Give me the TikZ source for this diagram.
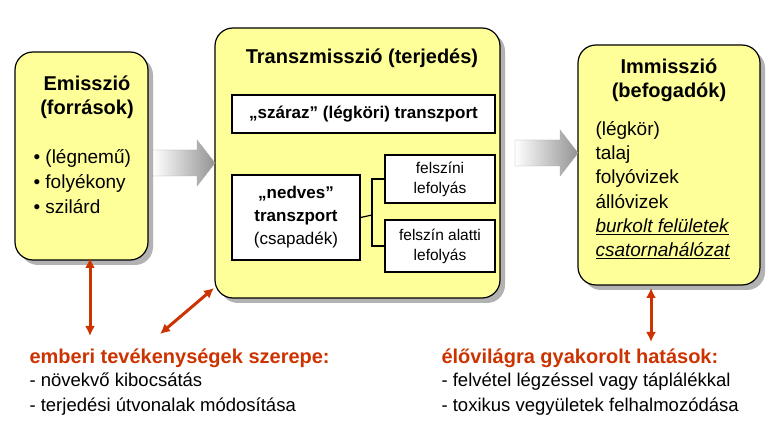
\documentclass[tikz,border=0pt]{standalone}
\usepackage{fontspec}
\setmainfont{Liberation Sans}
\usetikzlibrary{arrows.meta}
\definecolor{boxyellow}{HTML}{FFFF99}
\definecolor{darkred}{HTML}{CC3300}
\begin{document}
\begin{tikzpicture}[x=1pt,y=-1pt]
    \tikzset{bigbox/.style = {draw, fill=boxyellow, rounded corners=18pt, line width=1.2pt}}
    \tikzset{shadowbox/.style = {fill=gray!60, rounded corners=18pt}}
    \tikzset{smallbox/.style = {draw, fill=white, line width=1.2pt}}
    \tikzset{redarrow/.style = {draw=darkred, line width=3pt, {Latex[length=10pt,width=10pt]}-{Latex[length=10pt,width=10pt]}}}
    \tikzset{blockarrow/.style = {draw=gray!70, left color=white, right color=gray!85}}
    \useasboundingbox (0,0) rectangle (772,430);

    % shadows and boxes
    \fill[shadowbox] (20,57) rectangle (153,265);
    \fill[shadowbox] (220,33) rectangle (505,303);
    \fill[shadowbox] (583,50) rectangle (765,290);
    \draw[bigbox] (15,52) rectangle (148,260);
    \draw[bigbox] (215,28) rectangle (500,298);
    \draw[bigbox] (578,45) rectangle (760,285);

    % block arrows
    \draw[blockarrow] (153,150) -- (197,150) -- (197,140) -- (215,163) -- (197,186) -- (197,176) -- (153,176) -- cycle;
    \draw[blockarrow] (515,140) -- (560,140) -- (560,130) -- (578,153) -- (560,176) -- (560,166) -- (515,166) -- cycle;

    % left box
    \node[font=\bfseries\fontsize{20}{24}\selectfont, align=center] (emi) at (87,97) {Emisszió\\(források)};
    \node[font=\fontsize{19}{25}\selectfont, align=left, anchor=north west] (emilist) at (30,146) {• (légnemű)\\• folyékony\\• szilárd};

    % middle box
    \node[font=\bfseries\fontsize{20}{24}\selectfont] (trans) at (362,58) {Transzmisszió (terjedés)};
    \node[smallbox, minimum width=263pt, minimum height=38pt, font=\bfseries\fontsize{17}{20}\selectfont] (szaraz) at (363.5,114) {„száraz” (légköri) transzport};
    \node[smallbox, minimum width=128pt, minimum height=85pt, align=center, font=\fontsize{17}{23}\selectfont] (nedves) at (296,217.5) {\textbf{„nedves”}\\\textbf{transzport}\\(csapadék)};
    \node[smallbox, minimum width=110pt, minimum height=48pt, align=center, font=\fontsize{15.5}{20}\selectfont] (felszini) at (440,179) {felszíni\\lefolyás};
    \node[smallbox, minimum width=110pt, minimum height=52pt, align=center, font=\fontsize{15.5}{20}\selectfont] (alatti) at (440,246) {felszín alatti\\lefolyás};
    \coordinate (fork) at (372,215);
    \draw[line width=1.2pt] (nedves.east) -- (fork);
    \draw[line width=1.2pt] (felszini.west) -| (fork) |- (alatti.west);

    % right box
    \node[font=\bfseries\fontsize{20}{24}\selectfont, align=center] (imm) at (669,80) {Immisszió\\(befogadók)};
    \node[font=\fontsize{19}{24.2}\selectfont, align=left, anchor=north west] (immlist) at (592,118) {(légkör)\\talaj\\folyóvizek\\állóvizek\\\textit{\underline{burkolt felületek}}\\\textit{\underline{csatornahálózat}}};

    % bottom texts
    \node[anchor=west, text=darkred, font=\bfseries\fontsize{20}{22}\selectfont] (emb) at (26,358) {emberi tevékenységek szerepe:};
    \node[anchor=north west, align=left, font=\fontsize{18.5}{25}\selectfont] (emblist) at (26,369) {- növekvő kibocsátás\\- terjedési útvonalak módosítása};
    \node[anchor=west, text=darkred, font=\bfseries\fontsize{20}{22}\selectfont] (elo) at (438,358) {élővilágra gyakorolt hatások:};
    \node[anchor=north west, align=left, font=\fontsize{18.5}{25}\selectfont] (elolist) at (438,369) {- felvétel légzéssel vagy táplálékkal\\- toxikus vegyületek felhalmozódása};

    % red arrows
    \coordinate (lt) at (90,258);
    \coordinate (lb) at (90,336);
    \coordinate (dt) at (214,288);
    \coordinate (db) at (160,334);
    \coordinate (rt) at (651,288);
    \coordinate (rb) at (651,342);
    \draw[redarrow] (lt) -- (lb);
    \draw[redarrow] (db) -- (dt);
    \draw[redarrow] (rt) -- (rb);
\end{tikzpicture}
\end{document}
